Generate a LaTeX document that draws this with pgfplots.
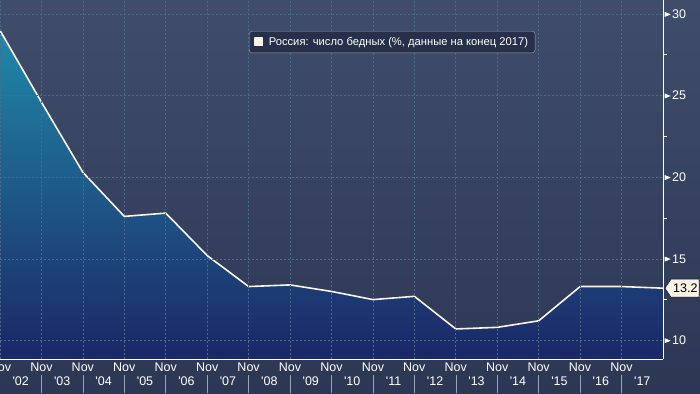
\documentclass[border=0pt]{standalone}
\usepackage{pgfplots}
\usepackage{pgfplotstable}
\pgfplotsset{compat=1.18}
\usepackage{fontspec}
\setmainfont{Liberation Sans}
\definecolor{bgTop}{HTML}{3F4D6B}
\definecolor{bgBot}{HTML}{2C3754}
\definecolor{fillTop}{HTML}{2089A9}
\definecolor{fillBot}{HTML}{1B2667}
\definecolor{gridcol}{HTML}{4D6A8A}
\definecolor{cream}{HTML}{FBF3E6}
\definecolor{legfill}{HTML}{27304A}
\definecolor{sepcol}{HTML}{9AA3B5}
\pgfplotstableread{
x y
2002 29.0
2003 24.6
2004 20.3
2005 17.6
2006 17.8
2007 15.2
2008 13.3
2009 13.4
2010 13.0
2011 12.5
2012 12.7
2013 10.7
2014 10.8
2015 11.2
2016 13.3
2017 13.3
2018 13.2
}\poverty
\begin{document}
\begin{tikzpicture}
\path[use as bounding box, top color=bgTop, bottom color=bgBot] (0pt,0pt) rectangle (700pt,393pt);
\begin{axis}[
  at={(0pt,34pt)}, anchor=south west,
  scale only axis, width=663pt, height=359pt,
  xmin=2002, xmax=2018, ymin=8.86, ymax=30.86,
  axis x line*=bottom, axis y line*=right,
  axis line style={white, line width=0.9pt, -},
  xtick={2002,...,2017},
  xticklabels={Nov,Nov,Nov,Nov,Nov,Nov,Nov,Nov,Nov,Nov,Nov,Nov,Nov,Nov,Nov,Nov},
  extra x ticks={2002.5,2003.5,2004.5,2005.5,2006.5,2007.5,2008.5,2009.5,2010.5,2011.5,2012.5,2013.5,2014.5,2015.5,2016.5,2017.5},
  extra x tick labels={\textquotesingle02,\textquotesingle03,\textquotesingle04,\textquotesingle05,\textquotesingle06,\textquotesingle07,\textquotesingle08,\textquotesingle09,\textquotesingle10,\textquotesingle11,\textquotesingle12,\textquotesingle13,\textquotesingle14,\textquotesingle15,\textquotesingle16,\textquotesingle17},
  extra x tick style={grid=none, xticklabel style={yshift=-14pt}},
  ytick={10,15,20,25,30},
  minor ytick={12.5,17.5,22.5,27.5},
  major tick length=0pt,
  minor tick length=4pt,
  tick align=outside,
  tick style={white, line width=0.8pt},
  /pgf/number format/assume math mode=true,
  yticklabel={\tikz[baseline=-0.6ex]\fill[white] (0pt,-2.5pt)--(6pt,0pt)--(0pt,2.5pt)--cycle;\hspace{1.5pt}\pgfmathprintnumber{\tick}},
  yticklabel style={anchor=west, inner sep=0pt, xshift=1.5pt, text=white, font=\fontsize{12.5}{14}\selectfont},
  xticklabel style={anchor=north, inner sep=0pt, yshift=-4pt, text=white, font=\fontsize{12.5}{14}\selectfont},
  grid=major,
  major grid style={gridcol, dash pattern=on 2pt off 2pt, line width=0.6pt},
  axis on top,
  legend style={at={(axis description cs:0.3756,0.9136)}, anchor=north west,
    fill=legfill, draw=gray!70, rounded corners=3pt, text=white,
    font=\fontsize{11.2}{13}\selectfont, inner xsep=5pt, inner ysep=4pt},
  legend cell align=left,
]
\addplot[draw=none, top color=fillTop, bottom color=fillBot, forget plot]
  table[x=x,y=y] {\poverty} -- (axis cs:2018,8.86) -- (axis cs:2002,8.86) -- cycle;
\addplot[cream, line width=1.6pt, line join=round,
  legend image code/.code={\fill[cream, sharp corners] (0pt,-3.5pt) rectangle (7.5pt,4pt); \path (11pt,0pt);}]
  table[x=x,y=y] {\poverty};
\addlegendentry{Россия: число бедных (\%, данные на конец 2017)}
\coordinate (last) at (axis cs:2018,13.2);
\pgfplotsinvokeforeach{2003,...,2017}{\coordinate (sep#1) at (axis cs:#1,8.86);}
\end{axis}
\foreach \k in {2003,...,2017}{\draw[sepcol, line width=0.6pt] (sep\k) ++(0pt,-16pt) -- ++(0pt,-18pt);}
\fill[cream, draw=black, line width=0.4pt] (last) ++(2pt,0pt) -- ++(6pt,9pt) -- ++(28pt,0pt) -- ++(0pt,-18pt) -- ++(-28pt,0pt) -- cycle;
\node[anchor=west, inner sep=0pt, xshift=10pt, text=black, font=\fontsize{12.5}{14}\selectfont] at (last) {13.2};
\end{tikzpicture}
\end{document}
